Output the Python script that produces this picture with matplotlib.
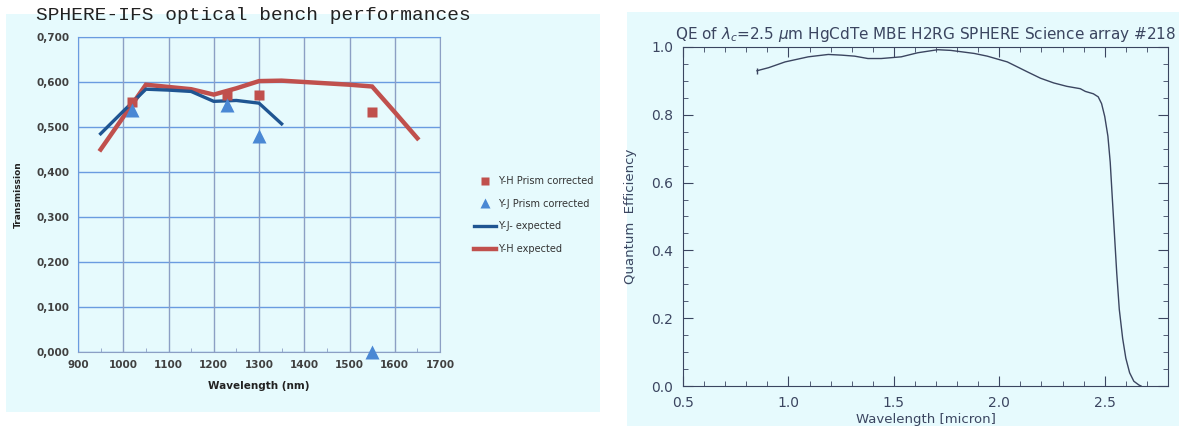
import matplotlib
matplotlib.use("Agg")
import matplotlib.pyplot as plt
from matplotlib.patches import Rectangle
from matplotlib.lines import Line2D
from matplotlib.ticker import MultipleLocator, FixedLocator

# ---- left panel data (SPHERE-IFS optical bench) ----
wl_yh = [950, 1000, 1050, 1100, 1150, 1200, 1250, 1300, 1350, 1400, 1450, 1500, 1550, 1600, 1650]
tr_yh = [0.450, 0.522, 0.594, 0.589, 0.584, 0.572, 0.586, 0.602, 0.603, 0.600, 0.597, 0.594, 0.590, 0.533, 0.475]
wl_yj = [950, 1000, 1050, 1100, 1150, 1200, 1250, 1300, 1350]
tr_yj = [0.485, 0.535, 0.584, 0.582, 0.579, 0.557, 0.559, 0.553, 0.507]
wl_sq = [1020, 1230, 1300, 1550]
tr_sq = [0.556, 0.572, 0.571, 0.533]
wl_tri = [1020, 1230, 1300, 1550]
tr_tri = [0.538, 0.548, 0.479, 0.000]
left_xticks = [900, 1000, 1100, 1200, 1300, 1400, 1500, 1600, 1700]
left_yticks = [0.0, 0.1, 0.2, 0.3, 0.4, 0.5, 0.6, 0.7]

# ---- right panel data (QE curve) ----
qe_wl = [0.851, 0.906, 0.984, 1.094, 1.189, 1.252, 1.314, 1.377, 1.440, 1.535, 1.613,
         1.708, 1.770, 1.881, 1.943, 2.038, 2.132, 2.195, 2.258, 2.320, 2.384, 2.408,
         2.446, 2.469, 2.485, 2.500, 2.515, 2.526, 2.535, 2.546, 2.557, 2.569, 2.585,
         2.600, 2.618, 2.638, 2.662, 2.672]
qe_val = [0.930, 0.939, 0.956, 0.971, 0.978, 0.976, 0.973, 0.966, 0.966, 0.971, 0.983,
          0.992, 0.990, 0.981, 0.973, 0.956, 0.927, 0.908, 0.894, 0.884, 0.877, 0.869,
          0.862, 0.853, 0.833, 0.795, 0.737, 0.660, 0.564, 0.448, 0.332, 0.226, 0.140,
          0.082, 0.039, 0.014, 0.003, 0.0]

W, H = 1179, 426
fig = plt.figure(figsize=(W / 100, H / 100), dpi=100)
bg = '#E6FAFD'

def fx(px):
    return px / W

def fy(py):
    return 1 - py / H

# background boxes
fig.patches.append(Rectangle((fx(6), fy(412)), fx(594), 398 / H, transform=fig.transFigure,
                             facecolor=bg, edgecolor='none', zorder=-10))
fig.patches.append(Rectangle((fx(627), 0), 1 - fx(627), 414 / H, transform=fig.transFigure,
                             facecolor=bg, edgecolor='none', zorder=-10))

############ left chart
red = '#C0504D'
dblue = '#1F5592'
lblue = '#4A88D4'
gcol = '#6A9BE0'
vcol = '#8C9FC4'

ax = fig.add_axes([fx(78), fy(352), 362 / W, 315 / H])
ax.set_facecolor('none')
ax.plot(wl_yh, tr_yh, color=red, lw=3.2, solid_joinstyle='miter', zorder=3)
ax.plot(wl_yj, tr_yj, color=dblue, lw=2.4, zorder=4)
ax.plot(wl_sq, tr_sq, ls='none', marker='s', ms=6.5, color=red, mec='none', zorder=5)
ax.plot(wl_tri, tr_tri, ls='none', marker='^', ms=9.5, color=lblue, mec='none',
        zorder=6, clip_on=False)

ax.set_xlim(900, 1700)
ax.set_ylim(0, 0.7)
ax.xaxis.set_major_locator(FixedLocator(left_xticks))
ax.yaxis.set_major_locator(FixedLocator(left_yticks))
ax.set_xticklabels([str(v) for v in left_xticks])
ax.set_yticklabels([('%.3f' % v).replace('.', ',') for v in left_yticks])
ax.xaxis.set_minor_locator(MultipleLocator(50))
for y in left_yticks:
    ax.axhline(y, color=gcol, lw=1.0, zorder=1)
for x in left_xticks:
    ax.axvline(x, color=vcol, lw=1.0, zorder=1)
ax.tick_params(axis='both', which='major', length=0, labelsize=7.5, colors='#404040', pad=6)
ax.tick_params(axis='x', which='minor', direction='in', length=3, color=vcol)
for lab in ax.get_xticklabels() + ax.get_yticklabels():
    lab.set_fontweight('bold')
for s in ['left', 'top']:
    ax.spines[s].set_color(gcol)
for s in ['right', 'bottom']:
    ax.spines[s].set_color(vcol)
ax.set_xlabel('Wavelength (nm)', fontsize=7.5, fontweight='bold', color='#222222', labelpad=8)
ax.set_ylabel('Transmission', fontsize=6.5, fontweight='bold', color='#222222', labelpad=10)

handles = [Line2D([], [], ls='none', marker='s', ms=6, color=red, mec='none'),
           Line2D([], [], ls='none', marker='^', ms=6.5, color=lblue, mec='none'),
           Line2D([], [], color=dblue, lw=2.4),
           Line2D([], [], color=red, lw=3.2)]
labels = ['Y-H Prism corrected', 'Y-J Prism corrected', 'Y-J- expected', 'Y-H expected']
ax.legend(handles, labels, loc='center left', bbox_to_anchor=(1.07, 0.435), frameon=False,
          fontsize=7, labelspacing=1.3, handlelength=2.3, handletextpad=0.2,
          labelcolor='#333333')

fig.text(fx(36), fy(15), 'SPHERE-IFS optical bench performances', family='Liberation Mono',
         fontsize=14, color='#222222', va='center', ha='left')

############ right chart
ink = '#3B4560'
ax2 = fig.add_axes([fx(683), fy(386), 485 / W, 339 / H])
ax2.set_facecolor('none')
ax2.plot(qe_wl, qe_val, color=ink, lw=1.0, marker='|', markevery=[0], ms=5)
ax2.set_xlim(0.5, 2.8)
ax2.set_ylim(0, 1.0)
ax2.xaxis.set_major_locator(MultipleLocator(0.5))
ax2.xaxis.set_minor_locator(MultipleLocator(0.1))
ax2.yaxis.set_major_locator(MultipleLocator(0.2))
ax2.yaxis.set_minor_locator(MultipleLocator(0.05))
ax2.tick_params(which='both', direction='in', top=True, right=True, color=ink,
                labelcolor=ink, labelsize=10)
ax2.tick_params(which='major', length=7, pad=7)
ax2.tick_params(which='minor', length=3.5)
for s in ax2.spines.values():
    s.set_color(ink)
ax2.set_xlabel('Wavelength [micron]', fontsize=9.5, color=ink, labelpad=2)
ax2.set_ylabel('Quantum  Efficiency', fontsize=9.5, color=ink, labelpad=10)
ax2.set_title(r'QE of $\lambda_c$=2.5 $\mu$m HgCdTe MBE H2RG SPHERE Science array #218',
              fontsize=11, color=ink, pad=6)

fig.savefig('out.png', dpi=100)
